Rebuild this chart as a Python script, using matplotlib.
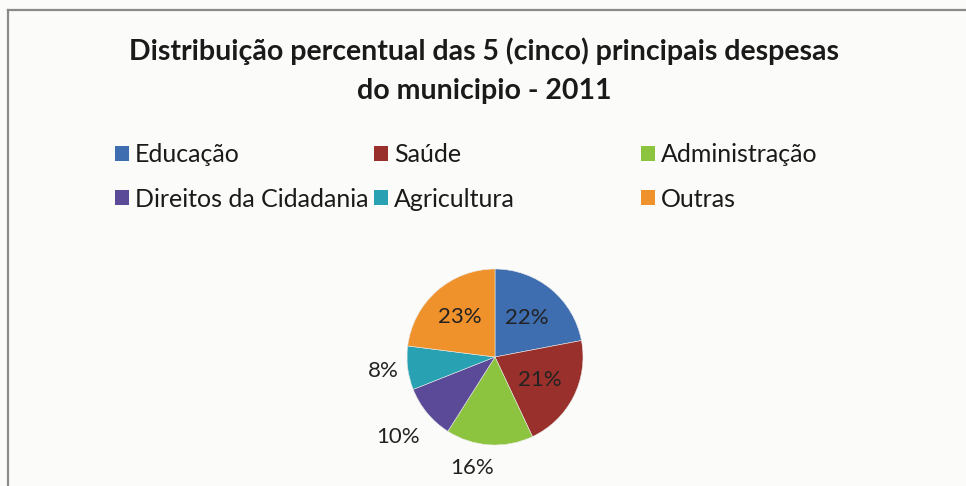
import numpy as np
import matplotlib
matplotlib.use('Agg')
import matplotlib.pyplot as plt
from matplotlib.patches import Patch

# Data
categories = ['Educação', 'Saúde', 'Administração',
              'Direitos da Cidadania', 'Agricultura', 'Outras']
values = [22, 21, 16, 10, 8, 23]
colors = ['#3e6db0', '#9a302b', '#8cc43f', '#5a4a98', '#28a2b3', '#f0922c']

title = 'Distribuição percentual das 5 (cinco) principais despesas\ndo municipio - 2011'

# label placement (radius in pie units, angle nudge in degrees)
label_dist = [0.57, 0.57, 1.29, 1.43, 1.28, 0.60]
label_nudge = [0, 0, -8, 0, 0, 0]

plt.rcParams['font.family'] = ['Lato', 'DejaVu Sans']

W, H = 966, 486
fig = plt.figure(figsize=(W / 100, H / 100), dpi=100)
fig.patch.set_facecolor('#fbfbfa')

# chart frame (top and left edges visible in the scan)
fig.add_artist(plt.Line2D([8 / W, 8 / W], [0, 1 - 10 / H], color='#8a8a8a', lw=1.6))
fig.add_artist(plt.Line2D([8 / W, 1], [1 - 10 / H, 1 - 10 / H], color='#8a8a8a', lw=1.6))

fig.text(484 / W, 1 - 71 / H, title, ha='center', va='center', fontsize=20.5,
         fontweight='bold', color='#1a1a1a', linespacing=1.6)

# pie: centre (495, 357) px, radius 88 px
cx, cy, r = 495, 357, 88
half = 150
ax = fig.add_axes([(cx - half) / W, (H - cy - half) / H, 2 * half / W, 2 * half / H])
ax.axis('off')

wedges, _ = ax.pie(values, colors=colors, startangle=90, counterclock=False,
                   radius=1, wedgeprops=dict(edgecolor='#e8e8e8', linewidth=0.4))
ax.set_xlim(-half / r, half / r)
ax.set_ylim(-half / r, half / r)
ax.set_aspect('equal')
total = sum(values)
for w, v, d, n in zip(wedges, values, label_dist, label_nudge):
    ang = np.deg2rad((w.theta1 + w.theta2) / 2 + n)
    ax.text(d * np.cos(ang), d * np.sin(ang), '{:.0f}%'.format(100 * v / total),
            ha='center', va='center', fontsize=16, color='#222222', clip_on=False)

# legend in three columns, column x positions as in Excel
col_x = [115, 374, 641]
for j in range(3):
    idx = [j, j + 3]
    handles = [Patch(facecolor=colors[i], edgecolor='none') for i in idx]
    fig.legend(handles, [categories[i] for i in idx], loc='upper left',
               bbox_to_anchor=(col_x[j] / W, 1 - 143 / H), frameon=False,
               fontsize=18, handlelength=0.55, handleheight=0.55,
               handletextpad=0.25, labelspacing=0.86, borderaxespad=0,
               borderpad=0, labelcolor='#1a1a1a')

fig.savefig('out.png', dpi=100, facecolor=fig.get_facecolor())
